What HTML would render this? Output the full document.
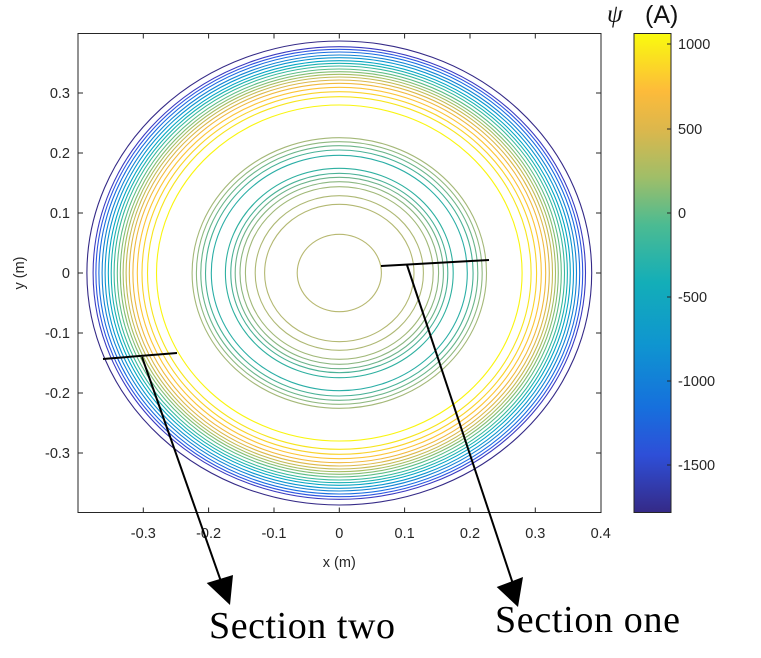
<!DOCTYPE html>
<html><head><meta charset="utf-8"><style>
html,body{margin:0;padding:0;background:#fff;}
svg{display:block;}
.t{font-family:"Liberation Sans",Arial,sans-serif;font-size:14.5px;fill:#262626;}
</style></head><body>
<svg width="761" height="658" viewBox="0 0 761 658" xmlns="http://www.w3.org/2000/svg">
<defs>
<linearGradient id="cb" x1="0" y1="1" x2="0" y2="0">
<stop offset="0" stop-color="#352a87"/>
<stop offset="0.12" stop-color="#2e4fd8"/>
<stop offset="0.22" stop-color="#1670dd"/>
<stop offset="0.35" stop-color="#0f95d0"/>
<stop offset="0.48" stop-color="#13aeb8"/>
<stop offset="0.6" stop-color="#4bbb92"/>
<stop offset="0.7" stop-color="#a0be68"/>
<stop offset="0.8" stop-color="#dcb74c"/>
<stop offset="0.88" stop-color="#fdbb3a"/>
<stop offset="1" stop-color="#f9fb0e"/>
</linearGradient>
</defs>
<rect x="78" y="33.5" width="523" height="479" fill="#fff"/>
<g fill="none" stroke-width="1.1">
<ellipse cx="339.3" cy="273" rx="252.4" ry="232" stroke="#352a87"/>
<ellipse cx="339.3" cy="273" rx="246.2" ry="226.3" stroke="#3b3bc0"/>
<ellipse cx="339.3" cy="273" rx="243.4" ry="223.7" stroke="#2e55e0"/>
<ellipse cx="339.3" cy="273" rx="240.4" ry="221" stroke="#1a6ee0"/>
<ellipse cx="339.3" cy="273" rx="237.2" ry="218" stroke="#1484d4"/>
<ellipse cx="339.3" cy="273" rx="234.2" ry="215.3" stroke="#0d96cf"/>
<ellipse cx="339.3" cy="273" rx="231" ry="212.3" stroke="#07a6c4"/>
<ellipse cx="339.3" cy="273" rx="228.1" ry="209.7" stroke="#1bb1b3"/>
<ellipse cx="339.3" cy="273" rx="225.2" ry="207" stroke="#38b99e"/>
<ellipse cx="339.3" cy="273" rx="222" ry="204" stroke="#5dbd87"/>
<ellipse cx="339.3" cy="273" rx="219" ry="201.3" stroke="#84be74"/>
<ellipse cx="339.3" cy="273" rx="216.2" ry="198.7" stroke="#a6be63"/>
<ellipse cx="339.3" cy="273" rx="213.2" ry="196" stroke="#c4bb56"/>
<ellipse cx="339.3" cy="273" rx="210" ry="193" stroke="#dcb84a"/>
<ellipse cx="339.3" cy="273" rx="206.4" ry="189.7" stroke="#f0b93e"/>
<ellipse cx="339.3" cy="273" rx="202" ry="185.7" stroke="#fcc436"/>
<ellipse cx="339.3" cy="273" rx="197.3" ry="181.3" stroke="#f9d22a"/>
<ellipse cx="339.3" cy="273" rx="191.8" ry="176.3" stroke="#f6e51c"/>
<ellipse cx="339.3" cy="273" rx="182.8" ry="168" stroke="#f9f50e"/>
<ellipse cx="339.3" cy="273" rx="147.2" ry="135.3" stroke="#a4b878"/>
<ellipse cx="339.3" cy="273" rx="142.9" ry="131.3" stroke="#8fb87f"/>
<ellipse cx="339.3" cy="273" rx="138.5" ry="127.3" stroke="#6bb58a"/>
<ellipse cx="339.3" cy="273" rx="133.8" ry="123" stroke="#48b196"/>
<ellipse cx="339.3" cy="273" rx="128" ry="117.7" stroke="#2aaea6"/>
<ellipse cx="339.3" cy="273" rx="113.9" ry="104.7" stroke="#2eb0a0"/>
<ellipse cx="339.3" cy="273" rx="108.5" ry="99.7" stroke="#4ab196"/>
<ellipse cx="339.3" cy="273" rx="104.1" ry="95.7" stroke="#6db38a"/>
<ellipse cx="339.3" cy="273" rx="99.3" ry="91.3" stroke="#8bb680"/>
<ellipse cx="339.3" cy="273" rx="93.9" ry="86.3" stroke="#a1b878"/>
<ellipse cx="339.3" cy="273" rx="84.1" ry="77.3" stroke="#aeb874"/>
<ellipse cx="339.3" cy="273" rx="74.7" ry="68.7" stroke="#b3b872"/>
<ellipse cx="339.3" cy="273" rx="42.1" ry="38.7" stroke="#b7b870"/>
</g>
<rect x="78" y="33.5" width="523" height="479" fill="none" stroke="#262626" stroke-width="1"/>
<g stroke="#262626" stroke-width="1">
<path d="M143.3 512.5v-5M208.6 512.5v-5M274 512.5v-5M339.3 512.5v-5M404.6 512.5v-5M470 512.5v-5M535.3 512.5v-5"/>
<path d="M143.3 33.5v5M208.6 33.5v5M274 33.5v5M339.3 33.5v5M404.6 33.5v5M470 33.5v5M535.3 33.5v5"/>
<path d="M78 93h5M78 153h5M78 213h5M78 273h5M78 333h5M78 393h5M78 453h5"/>
<path d="M601 93h-5M601 153h-5M601 213h-5M601 273h-5M601 333h-5M601 393h-5M601 453h-5"/>
</g>
<g class="t" text-anchor="middle">
<text x="143.3" y="538">-0.3</text><text x="208.6" y="538">-0.2</text><text x="274" y="538">-0.1</text>
<text x="339.3" y="538">0</text><text x="404.6" y="538">0.1</text><text x="470" y="538">0.2</text>
<text x="535.3" y="538">0.3</text><text x="600.7" y="538">0.4</text>
<text x="339.3" y="567">x (m)</text>
</g>
<g class="t" text-anchor="end">
<text x="70" y="98">0.3</text><text x="70" y="158">0.2</text><text x="70" y="218">0.1</text>
<text x="70" y="278">0</text><text x="70" y="338">-0.1</text><text x="70" y="398">-0.2</text><text x="70" y="458">-0.3</text>
</g>
<text class="t" transform="translate(24,273) rotate(-90)" text-anchor="middle">y (m)</text>
<rect x="634" y="33.5" width="37" height="479" fill="url(#cb)" stroke="#262626" stroke-width="1"/>
<g stroke="#262626"><path d="M671 44h-4M671 129h-4M671 213h-4M671 297h-4M671 381h-4M671 465h-4"/></g>
<g class="t">
<text x="678" y="49">1000</text><text x="678" y="134">500</text><text x="678" y="218">0</text>
<text x="678" y="302">-500</text><text x="678" y="386">-1000</text><text x="678" y="470">-1500</text>
</g>
<text x="607" y="22" font-family="Liberation Serif,serif" font-style="italic" font-size="25" fill="#111">ψ</text>
<text x="645" y="23" font-family="Liberation Sans,sans-serif" font-size="25" fill="#111">(A)</text>
<g stroke="#000" stroke-width="2" fill="none">
<line x1="381" y1="266" x2="489" y2="260"/>
<line x1="407" y1="265" x2="515" y2="590"/>
<line x1="103" y1="359" x2="177" y2="353"/>
<line x1="142" y1="357" x2="224" y2="590"/>
</g>
<polygon points="206.7,583 233,575 230,605" fill="#000"/>
<polygon points="496.7,587 523,577 518,607" fill="#000"/>
<text x="209" y="638" font-family="Liberation Serif,serif" font-size="38" fill="#000" textLength="186">Section two</text>
<text x="495" y="632" font-family="Liberation Serif,serif" font-size="38" fill="#000" textLength="185">Section one</text>
</svg>
</body></html>
